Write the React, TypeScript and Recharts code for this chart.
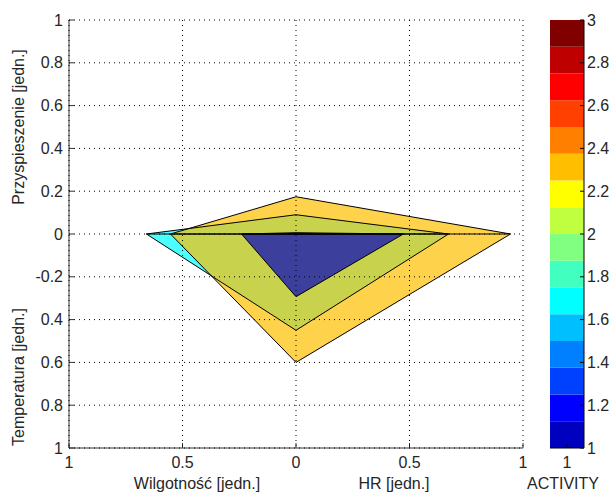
import React from 'react';
import {
  ComposedChart,
  Area,
  Line,
  XAxis,
  YAxis,
  CartesianGrid,
  ReferenceLine,
  ReferenceArea,
  Label,
} from 'recharts';

const FONT = '"Liberation Sans", Arial, Helvetica, sans-serif';
const TEXT = '#262626';

// One polygon per record: extent along each of the four directions
const activityValues = [1.7, 2.3, 1.05];
const wilgotnosc = [0.659, 0.553, 0.24]; // left
const przyspieszenie = [0.09, 0.174, 0.006]; // up
const hrValues = [0.672, 0.945, 0.473]; // right
const temperatura = [0.45, 0.6, 0.293]; // down

const xTicks = [-1, -0.5, 0, 0.5, 1];
const xTickLabels = ['1', '0.5', '0', '0.5', '1'];
const yTicks = [-1, -0.8, -0.6, -0.4, -0.2, 0, 0.2, 0.4, 0.6, 0.8, 1];
const yTickLabels = ['1', '0.8', '0.6', '0.4', '-0.2', '0', '0.2', '0.4', '0.6', '0.8', '1'];

// Colour bar (jet, 16 levels)
const colorbarEdges = [1, 1.125, 1.25, 1.375, 1.5, 1.625, 1.75, 1.875, 2, 2.125, 2.25, 2.375, 2.5, 2.625, 2.75, 2.875, 3];
const colorbarColors = [
  '#0000BF', '#0000FF', '#0040FF', '#0080FF', '#00BFFF', '#00FFFF', '#40FFBF', '#80FF80',
  '#BFFF40', '#FFFF00', '#FFBF00', '#FF8000', '#FF4000', '#FF0000', '#BF0000', '#800000',
];
const colorbarTicks = [1, 1.2, 1.4, 1.6, 1.8, 2, 2.2, 2.4, 2.6, 2.8, 3];
const colorbarTickLabels = ['1', '1.2', '1.4', '1.6', '1.8', '2', '2.2', '2.4', '2.6', '2.8', '3'];
const colorbarXTicks = [1];
const colorbarXTickLabels = ['1'];

const colorFor = (a: number) => {
  let idx = colorbarEdges.findIndex((e, i) => a >= e && a < colorbarEdges[i + 1]);
  if (idx < 0) idx = colorbarColors.length - 1;
  return colorbarColors[idx];
};

const xPositions = Array.from(
  new Set<number>([...wilgotnosc.map((v) => -v), 0, ...hrValues])
).sort((a, b) => a - b);

const table = xPositions.map((x) => {
  const row: Record<string, number | null> = { x };
  activityValues.forEach((_, i) => {
    if (x === -wilgotnosc[i] || x === hrValues[i]) {
      row[`up${i}`] = 0;
      row[`lo${i}`] = 0;
    } else if (x === 0) {
      row[`up${i}`] = przyspieszenie[i];
      row[`lo${i}`] = -temperatura[i];
    } else {
      row[`up${i}`] = null;
      row[`lo${i}`] = null;
    }
  });
  return row;
});

const colorbarData = colorbarTicks.map((y) => ({ x: 1, y }));

const tickStyle = { fill: TEXT, fontSize: 16, fontFamily: FONT };

const YLabels = () => (
  <g>
    <text
      x={24}
      y={127}
      transform="rotate(-90 24 127)"
      textAnchor="middle"
      fill={TEXT}
      fontSize={16}
      fontFamily={FONT}
    >
      Przyspieszenie [jedn.]
    </text>
    <text
      x={24}
      y={377}
      transform="rotate(-90 24 377)"
      textAnchor="middle"
      fill={TEXT}
      fontSize={16}
      fontFamily={FONT}
    >
      Temperatura [jedn.]
    </text>
  </g>
);

const XLabels = () => (
  <g>
    <text x={197} y={489} textAnchor="middle" fill={TEXT} fontSize={16} fontFamily={FONT}>
      Wilgotność [jedn.]
    </text>
    <text x={394} y={489} textAnchor="middle" fill={TEXT} fontSize={16} fontFamily={FONT}>
      HR [jedn.]
    </text>
  </g>
);

const CB_LEFT = 511;

const ActivityLabel = () => (
  <text x={563 - CB_LEFT} y={489} textAnchor="middle" fill={TEXT} fontSize={16} fontFamily={FONT}>
    ACTIVITY
  </text>
);

export default function App() {
  return (
    <div
      style={{
        position: 'absolute',
        left: 0,
        top: 0,
        width: 611,
        height: 493,
        overflow: 'hidden',
        background: '#fff',
      }}
    >
      <div style={{ position: 'absolute', left: 0, top: 0 }}>
        <ComposedChart
          width={540}
          height={493}
          data={table}
          margin={{ top: 20, right: 17, bottom: 0, left: 0 }}
        >
          {activityValues.map((a, i) => [
            <Area
              key={`au${i}`}
              type="linear"
              dataKey={`up${i}`}
              stroke="none"
              fill={colorFor(a)}
              fillOpacity={0.7}
              baseValue={0}
              connectNulls
              dot={false}
              activeDot={false}
              isAnimationActive={false}
            />,
            <Area
              key={`al${i}`}
              type="linear"
              dataKey={`lo${i}`}
              stroke="none"
              fill={colorFor(a)}
              fillOpacity={0.7}
              baseValue={0}
              connectNulls
              dot={false}
              activeDot={false}
              isAnimationActive={false}
            />,
          ])}
          {activityValues.map((_, i) => [
            <Line
              key={`lu${i}`}
              type="linear"
              dataKey={`up${i}`}
              stroke="#000"
              strokeWidth={1}
              connectNulls
              dot={false}
              activeDot={false}
              isAnimationActive={false}
            />,
            <Line
              key={`ll${i}`}
              type="linear"
              dataKey={`lo${i}`}
              stroke="#000"
              strokeWidth={1}
              connectNulls
              dot={false}
              activeDot={false}
              isAnimationActive={false}
            />,
          ])}
          {activityValues.map((_, i) => (
            <ReferenceLine
              key={`rl${i}`}
              segment={[
                { x: -wilgotnosc[i], y: 0 },
                { x: hrValues[i], y: 0 },
              ]}
              stroke="#000"
              strokeWidth={1}
            />
          ))}
          <CartesianGrid
            stroke="#000"
            strokeDasharray="1 4"
            strokeWidth={1}
            fill="none"
            zIndex={1000}
          />
          <XAxis
            dataKey="x"
            type="number"
            domain={[-1, 1]}
            ticks={xTicks}
            interval={0}
            tickFormatter={(v: number) => xTickLabels[xTicks.indexOf(v)] ?? String(v)}
            height={45}
            tickSize={-5}
            tickMargin={14}
            axisLine={{ stroke: '#333' }}
            tickLine={{ stroke: '#333' }}
            tick={tickStyle}
          >
            <Label content={<XLabels />} />
          </XAxis>
          <YAxis
            type="number"
            domain={[-1, 1]}
            ticks={yTicks}
            interval={0}
            tickFormatter={(v: number) => yTickLabels[yTicks.indexOf(v)] ?? String(v)}
            width={69}
            tickSize={-5}
            tickMargin={11}
            axisLine={{ stroke: '#333' }}
            tickLine={{ stroke: '#333' }}
            tick={tickStyle}
          >
            <Label content={<YLabels />} />
          </YAxis>
        </ComposedChart>
      </div>
      <div style={{ position: 'absolute', left: CB_LEFT, top: 0 }}>
        <ComposedChart
          width={611 - CB_LEFT}
          height={493}
          data={colorbarData}
          margin={{ top: 20, right: 0, bottom: 0, left: 550 - CB_LEFT }}
        >
          {colorbarColors.map((c, i) => (
            <ReferenceArea
              key={`cb${i}`}
              xAxisId="b"
              yAxisId="r"
              x1={0.5}
              x2={1.5}
              y1={colorbarEdges[i]}
              y2={colorbarEdges[i + 1]}
              fill={c}
              fillOpacity={1}
              stroke="none"
              ifOverflow="visible"
            />
          ))}
          <XAxis
            xAxisId="b"
            dataKey="x"
            type="number"
            orientation="bottom"
            domain={[0.5, 1.5]}
            allowDataOverflow
            ticks={colorbarXTicks}
            interval={0}
            tickFormatter={(v: number) => colorbarXTickLabels[colorbarXTicks.indexOf(v)] ?? String(v)}
            height={45}
            tickSize={-4}
            tickMargin={13}
            axisLine={{ stroke: '#000' }}
            tickLine={{ stroke: '#000' }}
            tick={tickStyle}
          >
            <Label content={<ActivityLabel />} />
          </XAxis>
          <XAxis
            xAxisId="t"
            dataKey="x"
            type="number"
            orientation="top"
            domain={[0.5, 1.5]}
            allowDataOverflow
            ticks={colorbarXTicks}
            interval={0}
            height={0}
            tickSize={-4}
            tick={false}
            axisLine={{ stroke: '#000' }}
            tickLine={{ stroke: '#000' }}
          />
          <YAxis
            yAxisId="r"
            dataKey="y"
            orientation="right"
            type="number"
            domain={[1, 3]}
            allowDataOverflow
            ticks={colorbarTicks}
            interval={0}
            tickFormatter={(v: number) => colorbarTickLabels[colorbarTicks.indexOf(v)] ?? String(v)}
            width={27}
            tickSize={-4}
            tickMargin={7}
            axisLine={{ stroke: '#000' }}
            tickLine={{ stroke: '#000' }}
            tick={tickStyle}
          />
          <YAxis
            yAxisId="l"
            dataKey="y"
            orientation="left"
            type="number"
            domain={[1, 3]}
            allowDataOverflow
            ticks={colorbarTicks}
            interval={0}
            width={0}
            tickSize={-4}
            tick={false}
            axisLine={{ stroke: '#000' }}
            tickLine={{ stroke: '#000' }}
          />
        </ComposedChart>
      </div>
    </div>
  );
}
